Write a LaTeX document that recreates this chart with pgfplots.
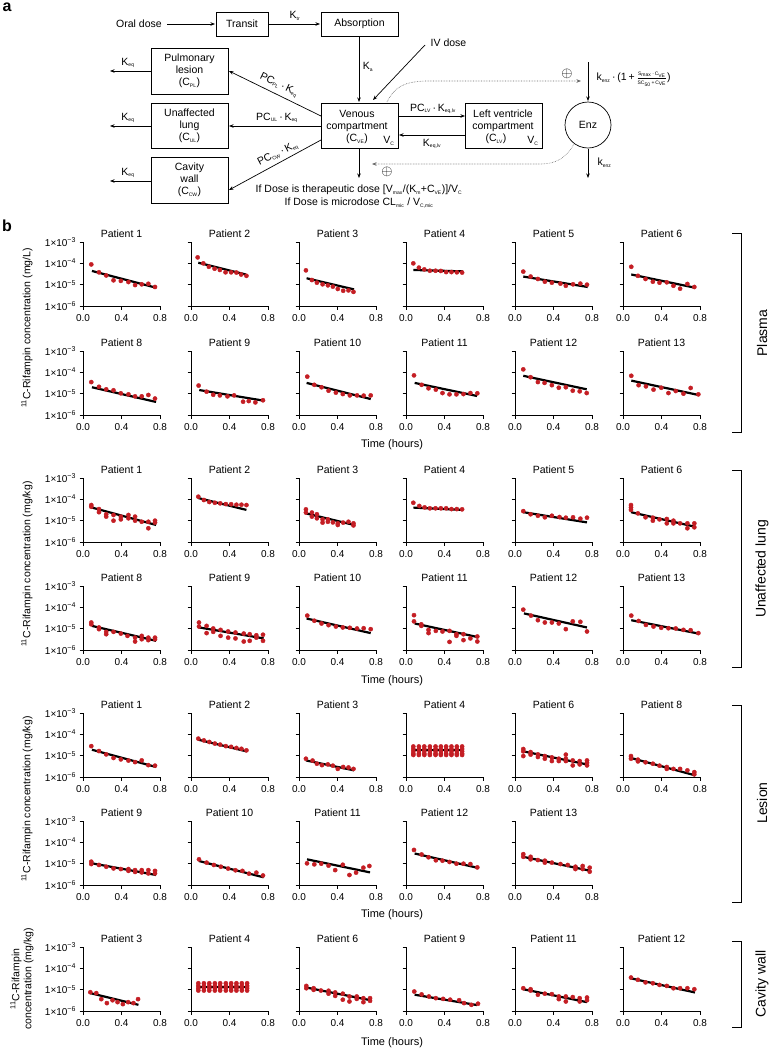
\documentclass[border=0pt]{standalone}
\usepackage{fontspec}
\setmainfont{Liberation Sans}
\usepackage{pgfplots}
\pgfplotsset{compat=1.18}
\usetikzlibrary{arrows.meta}
\definecolor{ptred}{RGB}{196,30,36}
\newcommand{\sub}[1]{\textsubscript{\fontsize{5}{5}\selectfont #1}}
\pgfplotsset{
 pkax/.style={scale only axis, width=77pt, height=64pt, anchor=south west,
  xmin=0, xmax=0.8, ymin=1e-6, ymax=1e-3, enlargelimits=false,
  axis lines=left, axis line style={-, line width=0.9pt},
  xtick={0,0.4,0.8}, xticklabels={0.0,0.4,0.8},
  ytick={1e-6,1e-5,1e-4,1e-3}, yticklabels={}, yminorticks=false,
  tick align=outside, major tick length=3.5pt, tick style={line width=0.9pt, black},
  tick label style={font=\fontsize{10}{11}\selectfont},
  xticklabel style={yshift=-1.5pt},
  clip=false,
  title style={font=\fontsize{10.5}{12}\selectfont, at={(0.5,1)}, anchor=center, yshift=2pt}},
 ylab/.style={yticklabels={1×10\textsuperscript{−6},1×10\textsuperscript{−5},1×10\textsuperscript{−4},1×10\textsuperscript{−3}}},
 fitl/.style={black, line width=2.2pt},
 pts/.style={only marks, mark=*, mark size=2.1pt, color=ptred, mark options={draw=ptred, fill=ptred}},
}
\newcommand{\panel}[6]{%
\begin{axis}[ymode=log, pkax, at={(#1pt,-#2pt)}, title={#3}, #4]
\addplot[fitl] coordinates {#5};
\addplot[pts] coordinates {#6};
\end{axis}}
\begin{document}
\begin{tikzpicture}
\begin{scope}[x=1pt, y=-1pt, line width=0.7pt, >={Stealth[length=4.5pt,width=3.5pt]}, every node/.style={font=\fontsize{10.5}{12}\selectfont}]
\path[use as bounding box] (0,0) rectangle (769,1050);
% panel labels
\node[font=\fontsize{16}{16}\selectfont\bfseries] at (7,7) {a};
\node[font=\fontsize{16}{16}\selectfont\bfseries] at (7,226) {b};
% schematic
\node at (139,24) {Oral dose};
\draw[->] (167,24) -- (215,24);
\draw (216,12) rectangle (268,36); \node at (242,24) {Transit};
\draw[->] (268,24) -- (320,24); \node at (295,16) {K\sub{tr}};
\draw (321,12) rectangle (398,36); \node at (359.5,24) {Absorption};
\draw[->] (359,36) -- (359,102); \node at (368,67) {K\sub{a}};
\draw (321,103) rectangle (398,148);
\node[align=center] at (357,127) {Venous\\compartment\\(C\sub{VE})};
\node at (389,141) {V\sub{C}};
\draw (151,48) rectangle (228,94);
\node[align=center] at (189.5,71) {Pulmonary\\lesion\\(C\sub{PL})};
\draw (151,103) rectangle (228,148);
\node[align=center] at (189.5,126) {Unaffected\\lung\\(C\sub{UL})};
\draw (151,157) rectangle (228,203);
\node[align=center] at (189.5,180) {Cavity\\wall\\(C\sub{CW})};
\draw[->] (151,71) -- (110,71); \node at (128,63) {K\sub{eq}};
\draw[->] (151,126) -- (110,126); \node at (128,118) {K\sub{eq}};
\draw[->] (151,181) -- (110,181); \node at (128,173) {K\sub{eq}};
\draw[->] (321,116) -- (229,71); \node[rotate=-26, inner sep=1pt] at (279,85) {PC\sub{PL}\,·\,K\sub{eq}};
\draw[->] (321,126) -- (229,126); \node at (277,118) {PC\sub{UL}\,·\,K\sub{eq}};
\draw[->] (321,140) -- (229,190); \node[rotate=27, inner sep=1pt] at (278,154) {PC\sub{CW}\,·\,K\sub{eq}};
\draw[->] (359,148) -- (359,178);
\node at (359,190) {If Dose is therapeutic dose [V\sub{max}/(K\sub{m}+C\sub{VE})]/V\sub{C}};
\node at (359,203) {If Dose is microdose CL\sub{mic} / V\sub{C,mic}};
\draw[->] (425,45) -- (373,100); \node[anchor=west] at (427,43) {IV dose};
\draw (465,103) rectangle (542,148);
\node[align=center] at (503,121) {Left ventricle\\compartment};
\node at (496,139) {(C\sub{LV})}; \node at (533,141) {V\sub{C}};
\draw[->] (398,116) -- (465,116); \node at (433,109) {PC\sub{LV}\,·\,K\sub{eq,lv}};
\draw[->] (465,135) -- (399,135); \node at (432,144) {K\sub{eq,lv}};
\draw (588,125) circle[radius=23pt]; \node at (588,125) {Enz};
\draw[->] (588,62) -- (588,101);
\draw[->] (588,149) -- (588,178);
\node[anchor=west] at (593,79) {k\sub{enz}\,·\,(1\,+\,$\frac{\mbox{\fontsize{5}{5}\selectfont S\textsubscript{max}\,·\,C\textsubscript{VE}}}{\mbox{\fontsize{5}{5}\selectfont SC\textsubscript{50}\,+\,C\textsubscript{VE}}}$)};
\node[anchor=west] at (594,163) {k\sub{enz}};
\draw[densely dotted, ->, line width=0.6pt, gray!80!black] (387,102) .. controls (395,86) and (405,82) .. (425,81) -- (581,81);
\node[font=\fontsize{14}{14}\selectfont] at (567,74) {$\oplus$};
\draw[densely dotted, ->, line width=0.6pt, gray!80!black] (574,144) .. controls (566,158) and (556,164) .. (540,164) -- (372,164);
\node[font=\fontsize{14}{14}\selectfont] at (387,172) {$\oplus$};
% y labels
\node[rotate=90] at (27,328) {\textsuperscript{11}C-Rifampin concentration (mg/L)};
\node[rotate=90] at (27,564) {\textsuperscript{11}C-Rifampin concentration (mg/kg)};
\node[rotate=90] at (27,799) {\textsuperscript{11}C-Rifampin concentration (mg/kg)};
\node[rotate=90, align=center] at (22,979) {\textsuperscript{11}C-Rifampin\\concentration (mg/kg)};
% x labels
\node[font=\fontsize{11}{12}\selectfont] at (392,445) {Time (hours)};
\node[font=\fontsize{11}{12}\selectfont] at (392,681) {Time (hours)};
\node[font=\fontsize{11}{12}\selectfont] at (392,915) {Time (hours)};
\node[font=\fontsize{11}{12}\selectfont] at (392,1043) {Time (hours)};
% brackets
\draw[line width=1pt] (732,233) -- (741,233) -- (741,432) -- (732,432);
\draw[line width=1pt] (732,470) -- (741,470) -- (741,667) -- (732,667);
\draw[line width=1pt] (732,705) -- (741,705) -- (741,902) -- (732,902);
\draw[line width=1pt] (732,941) -- (741,941) -- (741,1027) -- (732,1027);
\node[rotate=90, font=\fontsize{14}{15}\selectfont] at (762,333) {Plasma};
\node[rotate=90, font=\fontsize{14}{15}\selectfont] at (762,569) {Unaffected lung};
\node[rotate=90, font=\fontsize{14}{15}\selectfont] at (762,803) {Lesion};
\node[rotate=90, font=\fontsize{14}{15}\selectfont] at (762,984) {Cavity wall};
\end{scope}
% ---------- Plasma row 1
\panel{83}{306}{Patient 1}{ylab}{(0.093,4.4e-5)(0.759,7.2e-6)}{(0.086,8.9e-5)(0.166,3.8e-5)(0.241,2.7e-5)(0.317,1.6e-5)(0.393,1.5e-5)(0.472,1.33e-5)(0.541,9.6e-6)(0.610,1.04e-5)(0.679,1.1e-5)(0.748,7.8e-6)}
\panel{191}{306}{Patient 2}{}{(0.076,1.07e-4)(0.569,3.0e-5)}{(0.069,1.9e-4)(0.128,1.0e-4)(0.186,6.9e-5)(0.245,5.6e-5)(0.300,4.9e-5)(0.359,3.8e-5)(0.417,3.8e-5)(0.472,3.7e-5)(0.521,3.0e-5)(0.576,2.6e-5)}
\panel{299}{306}{Patient 3}{}{(0.079,2.0e-5)(0.572,6.0e-6)}{(0.072,4.7e-5)(0.134,1.65e-5)(0.186,1.24e-5)(0.245,1.04e-5)(0.300,9.3e-6)(0.352,8.1e-6)(0.403,6.3e-6)(0.459,5.2e-6)(0.514,5.4e-6)(0.566,4.6e-6)}
\panel{406}{306}{Patient 4}{}{(0.076,4.9e-5)(0.593,4.2e-5)}{(0.076,1.0e-4)(0.134,6.3e-5)(0.190,5.2e-5)(0.248,4.5e-5)(0.307,4.5e-5)(0.362,4.4e-5)(0.417,3.9e-5)(0.472,3.9e-5)(0.528,3.8e-5)(0.583,3.7e-5)}
\panel{515}{306}{Patient 5}{}{(0.086,2.4e-5)(0.755,7.8e-6)}{(0.086,4.1e-5)(0.162,2.4e-5)(0.238,1.85e-5)(0.310,1.38e-5)(0.383,1.24e-5)(0.472,1.12e-5)(0.528,8.9e-6)(0.603,1.04e-5)(0.679,1.12e-5)(0.748,1.0e-5)}
\panel{623}{306}{Patient 6}{}{(0.086,3.0e-5)(0.748,7.2e-6)}{(0.086,6.9e-5)(0.155,2.6e-5)(0.234,1.85e-5)(0.310,1.38e-5)(0.379,1.24e-5)(0.455,1.29e-5)(0.524,8.9e-6)(0.593,6.5e-6)(0.669,1.08e-5)(0.741,7.8e-6)}
% ---------- Plasma row 2
\panel{83}{415}{Patient 8}{ylab}{(0.093,2.0e-5)(0.759,4.1e-6)}{(0.086,3.5e-5)(0.166,2.1e-5)(0.241,1.6e-5)(0.317,1.44e-5)(0.393,1.04e-5)(0.472,9.3e-6)(0.541,7.5e-6)(0.610,7.5e-6)(0.679,8.7e-6)(0.748,5.9e-6)}
\panel{191}{415}{Patient 9}{}{(0.086,1.48e-5)(0.755,4.7e-6)}{(0.079,2.4e-5)(0.162,1.24e-5)(0.231,8.9e-6)(0.300,8.3e-6)(0.379,7.5e-6)(0.448,8.3e-6)(0.541,4.2e-6)(0.600,4.5e-6)(0.669,3.9e-6)(0.748,4.9e-6)}
\panel{299}{415}{Patient 10}{}{(0.079,3.2e-5)(0.745,5.6e-6)}{(0.086,6.3e-5)(0.159,2.6e-5)(0.234,2.0e-5)(0.307,1.38e-5)(0.383,1.12e-5)(0.455,9.6e-6)(0.528,8.3e-6)(0.603,8.3e-6)(0.672,8.1e-6)(0.745,8.3e-6)}
\panel{406}{415}{Patient 11}{}{(0.090,3.2e-5)(0.738,7.8e-6)}{(0.083,7.2e-5)(0.162,2.6e-5)(0.234,1.78e-5)(0.310,1.55e-5)(0.379,1.07e-5)(0.452,9.3e-6)(0.524,9.3e-6)(0.597,9.6e-6)(0.669,1.07e-5)(0.741,1.04e-5)}
\panel{515}{415}{Patient 12}{}{(0.086,6.9e-5)(0.745,1.6e-5)}{(0.086,1.38e-4)(0.162,5.9e-5)(0.238,3.5e-5)(0.307,3.2e-5)(0.383,2.5e-5)(0.455,1.9e-5)(0.528,2.0e-5)(0.600,1.38e-5)(0.672,1.29e-5)(0.745,1.07e-5)}
\panel{623}{415}{Patient 13}{}{(0.086,4.1e-5)(0.783,8.7e-6)}{(0.086,6.9e-5)(0.162,2.5e-5)(0.238,2.2e-5)(0.317,1.55e-5)(0.397,1.9e-5)(0.472,1.07e-5)(0.548,1.33e-5)(0.628,1.0e-5)(0.703,1.85e-5)(0.783,9.3e-6)}
% ---------- Unaffected lung row 1
\panel{83}{542}{Patient 1}{ylab}{(0.086,4.2e-5)(0.759,6.3e-6)}{(0.086,5.4e-5)(0.086,4.5e-5)(0.166,3.5e-5)(0.166,2.5e-5)(0.241,2.0e-5)(0.241,1.55e-5)(0.317,1.85e-5)(0.317,1.0e-5)(0.393,1.55e-5)(0.393,1.15e-5)(0.472,1.85e-5)(0.472,1.29e-5)(0.541,1.55e-5)(0.541,1.0e-5)(0.610,8.9e-6)(0.679,8.9e-6)(0.679,4.4e-6)(0.748,1.0e-5)(0.748,8.1e-6)}
\panel{191}{542}{Patient 2}{}{(0.076,1.15e-4)(0.576,3.2e-5)}{(0.076,1.33e-4)(0.134,9.3e-5)(0.190,7.5e-5)(0.248,6.9e-5)(0.303,6.5e-5)(0.362,6.0e-5)(0.417,5.9e-5)(0.472,5.6e-5)(0.524,5.6e-5)(0.576,5.4e-5)}
\panel{299}{542}{Patient 3}{}{(0.072,2.2e-5)(0.572,6.3e-6)}{(0.072,3.4e-5)(0.072,2.4e-5)(0.134,2.4e-5)(0.134,1.55e-5)(0.186,2.0e-5)(0.186,1.29e-5)(0.245,1.15e-5)(0.245,8.1e-6)(0.300,1.15e-5)(0.300,8.9e-6)(0.352,8.3e-6)(0.403,7.5e-6)(0.403,6.3e-6)(0.459,8.1e-6)(0.514,8.9e-6)(0.566,7.5e-6)(0.566,6.0e-6)}
\panel{406}{542}{Patient 4}{}{(0.076,4.1e-5)(0.593,3.2e-5)}{(0.076,6.9e-5)(0.138,4.9e-5)(0.193,4.2e-5)(0.248,3.8e-5)(0.307,3.8e-5)(0.362,3.8e-5)(0.417,3.8e-5)(0.472,3.5e-5)(0.528,3.5e-5)(0.583,3.4e-5)}
\panel{515}{542}{Patient 5}{}{(0.086,2.5e-5)(0.748,8.3e-6)}{(0.086,2.8e-5)(0.162,2.0e-5)(0.238,1.7e-5)(0.310,1.44e-5)(0.383,1.7e-5)(0.462,1.48e-5)(0.528,1.38e-5)(0.603,1.44e-5)(0.679,1.24e-5)(0.748,1.38e-5)}
\panel{623}{542}{Patient 6}{}{(0.083,2.5e-5)(0.748,5.2e-6)}{(0.083,5.4e-5)(0.083,4.2e-5)(0.083,3.2e-5)(0.155,2.2e-5)(0.234,1.44e-5)(0.310,1.38e-5)(0.310,1.0e-5)(0.379,1.15e-5)(0.455,1.2e-5)(0.455,7.5e-6)(0.524,1.0e-5)(0.524,7.5e-6)(0.593,7.5e-6)(0.669,7.5e-6)(0.669,4.4e-6)(0.741,7.5e-6)(0.741,4.9e-6)}
% ---------- Unaffected lung row 2
\panel{83}{650}{Patient 8}{ylab}{(0.093,1.35e-5)(0.759,2.7e-6)}{(0.086,1.95e-5)(0.086,1.6e-5)(0.166,1.14e-5)(0.166,9.5e-6)(0.241,7.1e-6)(0.241,5.5e-6)(0.317,7.1e-6)(0.393,5.9e-6)(0.462,4.6e-6)(0.541,3.8e-6)(0.541,2.5e-6)(0.610,4.6e-6)(0.610,3.2e-6)(0.679,3.8e-6)(0.679,2.9e-6)(0.748,3.8e-6)(0.748,3.2e-6)}
\panel{191}{650}{Patient 9}{}{(0.086,1.14e-5)(0.755,3.5e-6)}{(0.083,1.95e-5)(0.083,1.26e-5)(0.162,1.35e-5)(0.162,6.2e-6)(0.231,1.02e-5)(0.231,7.1e-6)(0.307,8.8e-6)(0.307,4.6e-6)(0.386,7.4e-6)(0.386,3.8e-6)(0.462,6.6e-6)(0.462,3.5e-6)(0.548,5.9e-6)(0.548,2.5e-6)(0.610,5.5e-6)(0.610,2.7e-6)(0.679,4.9e-6)(0.679,3.8e-6)(0.748,5.2e-6)(0.748,2.7e-6)}
\panel{299}{650}{Patient 10}{}{(0.079,3.0e-5)(0.745,6.2e-6)}{(0.086,4.1e-5)(0.159,2.35e-5)(0.234,1.75e-5)(0.307,1.46e-5)(0.383,1.26e-5)(0.455,1.14e-5)(0.528,1.1e-5)(0.603,1.02e-5)(0.672,1.05e-5)(0.745,9.5e-6)}
\panel{406}{650}{Patient 11}{}{(0.090,1.75e-5)(0.738,4.1e-6)}{(0.083,4.3e-5)(0.083,2.2e-5)(0.159,1.6e-5)(0.159,1.35e-5)(0.234,8.8e-6)(0.234,6.2e-6)(0.310,7.9e-6)(0.379,7.4e-6)(0.452,7.9e-6)(0.452,2.4e-6)(0.524,5.5e-6)(0.524,4.6e-6)(0.597,2.9e-6)(0.597,5.5e-6)(0.669,3.5e-6)(0.741,4.3e-6)(0.741,2.5e-6)}
\panel{515}{650}{Patient 12}{}{(0.093,5.2e-5)(0.748,1.14e-5)}{(0.086,7.8e-5)(0.166,4.1e-5)(0.238,2.5e-5)(0.310,1.95e-5)(0.383,1.95e-5)(0.455,1.75e-5)(0.528,9.5e-6)(0.600,2.2e-5)(0.679,2.1e-5)(0.748,7.4e-6)}
\panel{623}{650}{Patient 13}{}{(0.086,2.5e-5)(0.783,5.9e-6)}{(0.086,4.1e-5)(0.162,2.3e-5)(0.238,1.5e-5)(0.317,1.26e-5)(0.397,1.1e-5)(0.472,1.05e-5)(0.548,1.02e-5)(0.628,8.8e-6)(0.703,8.5e-6)(0.783,6.2e-6)}
% ---------- Lesion row 1
\panel{83}{777}{Patient 1}{ylab}{(0.093,1.9e-5)(0.759,2.95e-6)}{(0.086,2.8e-5)(0.166,1.65e-5)(0.241,1.15e-5)(0.317,7.8e-6)(0.393,6.7e-6)(0.472,5.9e-6)(0.541,5.0e-6)(0.610,6.0e-6)(0.679,3.6e-6)(0.748,3.4e-6)}
\panel{191}{777}{Patient 2}{}{(0.076,5.6e-5)(0.576,1.6e-5)}{(0.076,6.3e-5)(0.134,5.2e-5)(0.190,4.4e-5)(0.248,3.7e-5)(0.303,3.3e-5)(0.362,2.8e-5)(0.417,2.6e-5)(0.472,2.3e-5)(0.524,2.1e-5)(0.576,1.78e-5)}
\panel{299}{777}{Patient 3}{}{(0.072,6.0e-6)(0.572,2.05e-6)}{(0.072,7.2e-6)(0.141,5.9e-6)(0.186,4.2e-6)(0.238,3.6e-6)(0.300,3.9e-6)(0.352,3.4e-6)(0.403,2.4e-6)(0.459,2.95e-6)(0.514,2.8e-6)(0.566,2.4e-6)}
\panel{406}{777}{Patient 4}{}{(0.076,1.78e-5)(0.593,1.78e-5)}{(0.076,2.7e-5)(0.076,2.05e-5)(0.076,1.6e-5)(0.076,1.24e-5)(0.076,1.08e-5)(0.134,2.7e-5)(0.134,2.05e-5)(0.134,1.6e-5)(0.134,1.24e-5)(0.134,1.08e-5)(0.190,2.7e-5)(0.190,2.05e-5)(0.190,1.6e-5)(0.190,1.24e-5)(0.190,1.08e-5)(0.248,2.7e-5)(0.248,2.05e-5)(0.248,1.6e-5)(0.248,1.24e-5)(0.248,1.08e-5)(0.307,2.7e-5)(0.307,2.05e-5)(0.307,1.6e-5)(0.307,1.24e-5)(0.307,1.08e-5)(0.362,2.7e-5)(0.362,2.05e-5)(0.362,1.6e-5)(0.362,1.24e-5)(0.362,1.08e-5)(0.417,2.7e-5)(0.417,2.05e-5)(0.417,1.6e-5)(0.417,1.24e-5)(0.417,1.08e-5)(0.472,2.7e-5)(0.472,2.05e-5)(0.472,1.6e-5)(0.472,1.24e-5)(0.472,1.08e-5)(0.528,2.7e-5)(0.528,2.05e-5)(0.528,1.6e-5)(0.528,1.24e-5)(0.528,1.08e-5)(0.583,2.7e-5)(0.583,2.05e-5)(0.583,1.6e-5)(0.583,1.24e-5)(0.583,1.08e-5)}
\panel{515}{777}{Patient 6}{}{(0.086,1.6e-5)(0.748,3.9e-6)}{(0.086,2.05e-5)(0.086,1.6e-5)(0.086,9.6e-6)(0.162,1.48e-5)(0.162,1.12e-5)(0.238,1.15e-5)(0.238,8.7e-6)(0.310,9.6e-6)(0.310,7.2e-6)(0.383,8.3e-6)(0.383,5.6e-6)(0.455,7.2e-6)(0.455,5.6e-6)(0.528,1.12e-5)(0.528,7.2e-6)(0.528,5.6e-6)(0.600,6.0e-6)(0.600,3.5e-6)(0.672,5.6e-6)(0.672,3.9e-6)(0.748,6.0e-6)(0.748,4.6e-6)(0.748,3.5e-6)}
\panel{623}{777}{Patient 8}{}{(0.083,7.8e-6)(0.748,1.2e-6)}{(0.083,9.6e-6)(0.083,7.2e-6)(0.155,6.5e-6)(0.155,5.4e-6)(0.234,4.9e-6)(0.310,4.2e-6)(0.379,3.4e-6)(0.455,2.95e-6)(0.455,2.4e-6)(0.524,2.4e-6)(0.593,2.4e-6)(0.669,2.05e-6)(0.741,1.7e-6)(0.741,1.33e-6)}
% ---------- Lesion row 2
\panel{83}{885}{Patient 9}{ylab}{(0.093,1.04e-5)(0.759,2.95e-6)}{(0.086,1.24e-5)(0.086,9.6e-6)(0.166,8.7e-6)(0.241,7.2e-6)(0.317,6.0e-6)(0.393,5.6e-6)(0.472,5.6e-6)(0.472,4.6e-6)(0.541,5.0e-6)(0.541,4.1e-6)(0.610,5.0e-6)(0.610,3.9e-6)(0.679,5.0e-6)(0.679,3.5e-6)(0.748,4.6e-6)(0.748,3.5e-6)}
\panel{191}{885}{Patient 10}{}{(0.083,1.33e-5)(0.755,2.3e-6)}{(0.083,1.6e-5)(0.162,1.12e-5)(0.238,8.7e-6)(0.310,7.2e-6)(0.386,5.9e-6)(0.462,4.9e-6)(0.534,4.6e-6)(0.603,3.4e-6)(0.679,3.8e-6)(0.748,2.8e-6)}
\panel{299}{885}{Patient 11}{}{(0.083,1.6e-5)(0.738,3.9e-6)}{(0.083,1.04e-5)(0.159,9.3e-6)(0.231,1.0e-5)(0.307,8.1e-6)(0.376,5.0e-6)(0.455,8.9e-6)(0.524,2.95e-6)(0.593,3.8e-6)(0.669,6.5e-6)(0.731,7.8e-6)}
\panel{406}{885}{Patient 12}{}{(0.090,3.0e-5)(0.738,6.5e-6)}{(0.083,4.4e-5)(0.162,2.7e-5)(0.234,2.0e-5)(0.310,1.44e-5)(0.379,1.38e-5)(0.452,1.2e-5)(0.524,1.0e-5)(0.597,1.0e-5)(0.669,9.6e-6)(0.741,6.7e-6)}
\panel{515}{885}{Patient 13}{}{(0.086,2.1e-5)(0.776,4.7e-6)}{(0.086,2.8e-5)(0.086,2.1e-5)(0.162,2.1e-5)(0.162,1.6e-5)(0.238,1.48e-5)(0.310,1.38e-5)(0.310,1.12e-5)(0.383,1.12e-5)(0.472,9.6e-6)(0.548,8.7e-6)(0.628,7.2e-6)(0.628,5.6e-6)(0.703,7.8e-6)(0.703,5.6e-6)(0.776,6.5e-6)(0.776,4.2e-6)}
% ---------- Cavity wall
\panel{83}{1011}{Patient 3}{ylab}{(0.076,6.9e-6)(0.576,1.95e-6)}{(0.076,7.6e-6)(0.138,6.9e-6)(0.190,3.6e-6)(0.248,2.35e-6)(0.307,3.2e-6)(0.359,2.6e-6)(0.414,2.1e-6)(0.469,2.6e-6)(0.524,2.35e-6)(0.572,3.6e-6)}
\panel{191}{1011}{Patient 4}{}{(0.076,1.3e-5)(0.583,1.3e-5)}{(0.076,2.0e-5)(0.076,1.5e-5)(0.076,1.17e-5)(0.076,9.1e-6)(0.134,2.0e-5)(0.134,1.5e-5)(0.134,1.17e-5)(0.134,9.1e-6)(0.190,2.0e-5)(0.190,1.5e-5)(0.190,1.17e-5)(0.190,9.1e-6)(0.248,2.0e-5)(0.248,1.5e-5)(0.248,1.17e-5)(0.248,9.1e-6)(0.303,2.0e-5)(0.303,1.5e-5)(0.303,1.17e-5)(0.303,9.1e-6)(0.362,2.0e-5)(0.362,1.5e-5)(0.362,1.17e-5)(0.362,9.1e-6)(0.417,2.0e-5)(0.417,1.5e-5)(0.417,1.17e-5)(0.417,9.1e-6)(0.472,2.0e-5)(0.472,1.5e-5)(0.472,1.17e-5)(0.472,9.1e-6)(0.528,2.0e-5)(0.528,1.5e-5)(0.528,1.17e-5)(0.528,9.1e-6)(0.583,2.0e-5)(0.583,1.5e-5)(0.583,1.17e-5)(0.583,9.1e-6)}
\panel{299}{1011}{Patient 6}{}{(0.076,1.26e-5)(0.745,3.2e-6)}{(0.076,1.5e-5)(0.076,1.17e-5)(0.152,1.17e-5)(0.152,9.8e-6)(0.228,9.1e-6)(0.307,8.9e-6)(0.307,6.5e-6)(0.376,7.4e-6)(0.376,5.1e-6)(0.455,6.5e-6)(0.455,3.4e-6)(0.524,4.8e-6)(0.524,2.8e-6)(0.600,4.8e-6)(0.600,3.7e-6)(0.669,4.0e-6)(0.669,2.6e-6)(0.738,4.0e-6)(0.738,3.0e-6)}
\panel{406}{1011}{Patient 9}{}{(0.090,5.8e-6)(0.738,1.9e-6)}{(0.086,8.2e-6)(0.162,6.0e-6)(0.238,4.8e-6)(0.310,4.0e-6)(0.386,3.7e-6)(0.459,3.4e-6)(0.552,3.2e-6)(0.603,2.35e-6)(0.679,1.95e-6)(0.748,2.2e-6)}
\panel{515}{1011}{Patient 11}{}{(0.086,1.05e-5)(0.748,2.6e-6)}{(0.086,1.17e-5)(0.162,1.05e-5)(0.162,9.1e-6)(0.238,5.8e-6)(0.310,6.5e-6)(0.383,6.2e-6)(0.455,4.8e-6)(0.455,3.6e-6)(0.528,4.8e-6)(0.528,2.8e-6)(0.600,4.5e-6)(0.672,4.0e-6)(0.672,2.8e-6)(0.748,4.3e-6)(0.748,3.2e-6)}
\panel{623}{1011}{Patient 12}{}{(0.083,3.4e-5)(0.748,7.4e-6)}{(0.083,3.7e-5)(0.155,2.9e-5)(0.234,2.2e-5)(0.310,2.0e-5)(0.379,1.67e-5)(0.455,1.5e-5)(0.524,1.17e-5)(0.593,1.17e-5)(0.669,1.17e-5)(0.741,1.05e-5)}
\end{tikzpicture}
\end{document}
